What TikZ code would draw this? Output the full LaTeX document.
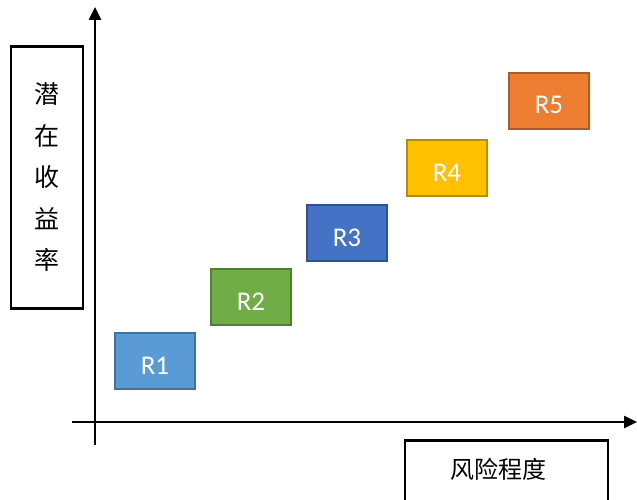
\documentclass[tikz,border=0pt]{standalone}
\usepackage{fontspec}
\setmainfont{Carlito}
\newfontfamily\cjk{Noto Sans CJK SC}
\usetikzlibrary{arrows.meta, positioning}

\definecolor{rblue}{HTML}{5B9BD5}
\definecolor{rbluedark}{HTML}{41719C}
\definecolor{rgreen}{HTML}{70AD47}
\definecolor{rgreendark}{HTML}{507E32}
\definecolor{rnavy}{HTML}{4472C4}
\definecolor{rnavydark}{HTML}{2F528F}
\definecolor{rgold}{HTML}{FFC000}
\definecolor{rgolddark}{HTML}{BC8C00}
\definecolor{rorange}{HTML}{ED7D31}
\definecolor{rorangedark}{HTML}{AE5A21}

\begin{document}
\begin{tikzpicture}[x=1pt,y=-1pt,>={Triangle[length=13pt,width=12pt]}, line width=2.5pt]
		\tikzstyle{level}=[rectangle,minimum width=80pt,minimum height=56pt,inner sep=0pt,line width=2pt,text=white,text height=26pt,text depth=0pt,font=\fontsize{27}{30}\selectfont]
		\tikzstyle{label box}=[rectangle,draw=black,line width=2.5pt,inner sep=0pt]
		\useasboundingbox (0,0) rectangle (637,500);
		
		% axes
		\coordinate (O) at (95,422);
		\coordinate (ybot) at (95,445);
		\coordinate (ytop) at (95,7);
		\coordinate (xleft) at (72,422);
		\coordinate (xright) at (637,422);
		\draw[->] (ybot) -- (ytop);
		\draw[->] (xleft) -- (xright);
		
		% axis labels
		\node[label box,minimum width=72pt,minimum height=262pt,align=center,font=\cjk\fontsize{25}{41.5}\selectfont] (yield) at (47,177.5) {潜\\在\\收\\益\\率};
		\node[label box,minimum width=203pt,minimum height=72pt,anchor=north,text height=20pt,text depth=16pt,font=\cjk\fontsize{24}{28}\selectfont] (risk) at (506.5,439) {风险程度\kern16pt};
		
		% risk levels
		\node[level,fill=rblue,draw=rbluedark] (R1) at (155,361) {R1};
		\node[level,fill=rgreen,draw=rgreendark] (R2) at (251,297) {R2};
		\node[level,fill=rnavy,draw=rnavydark] (R3) at (347,233) {R3};
		\node[level,fill=rgold,draw=rgolddark] (R4) at (447,168) {R4};
		\node[level,fill=rorange,draw=rorangedark] (R5) at (549,101) {R5};
	\end{tikzpicture}
\end{document}
